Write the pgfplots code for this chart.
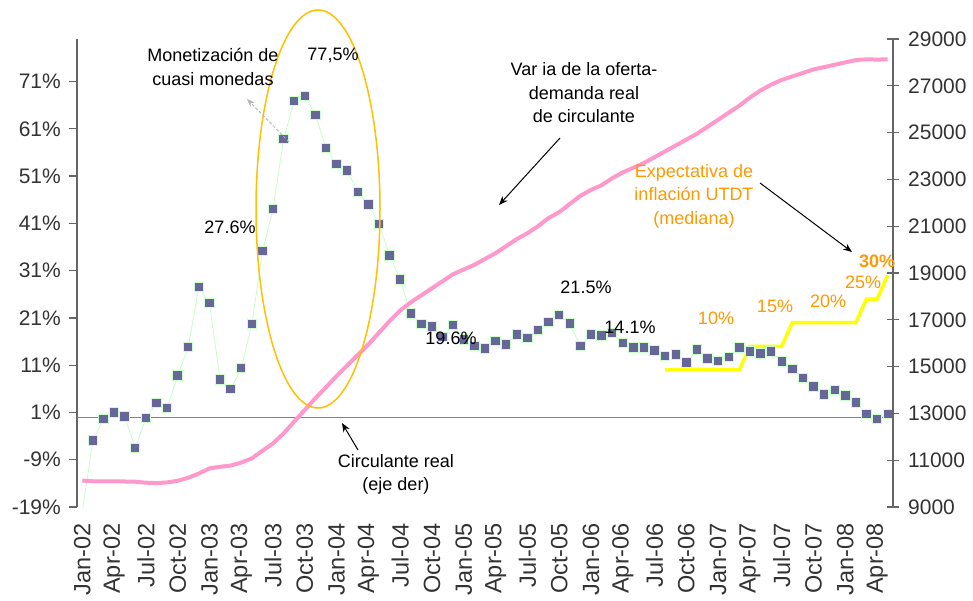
\documentclass[border=0pt]{standalone}
\usepackage{fontspec}
\setmainfont{Liberation Sans}
\usepackage{pgfplots}
\pgfplotsset{compat=1.18}
\usetikzlibrary{arrows.meta}

\definecolor{mk}{HTML}{666699}
\definecolor{lg}{HTML}{CCFFCC}
\definecolor{pk}{HTML}{FF99CC}
\definecolor{ye}{HTML}{FFFF00}
\definecolor{og}{HTML}{FF9900}
\definecolor{el}{HTML}{FFC000}

\newcommand{\tickfont}{\fontsize{21}{25}\selectfont}
\newcommand{\xtickfont}{\fontsize{23.5}{25}\selectfont}
\newcommand{\notefont}{\fontsize{18}{23.5}\selectfont}

\begin{document}
\begin{tikzpicture}[x=1pt,y=1pt]
\useasboundingbox (0,0) rectangle (973,600);

% left axis: variacion interanual (%)
\begin{axis}[
  at={(77pt,93pt)}, anchor=south west,
  width=816pt, height=468pt, scale only axis,
  xmin=-0.5, xmax=76.5, ymin=-19, ymax=80,
  axis y line*=left, axis x line*=bottom,
  x axis line style={draw=none},
  y axis line style={black!60, line width=1.2pt},
  tick align=outside, major tick length=8pt,
  xtick={0,3,...,75},
  xticklabels={Jan-02,Apr-02,Jul-02,Oct-02,Jan-03,Apr-03,Jul-03,Oct-03,Jan-04,Apr-04,Jul-04,Oct-04,Jan-05,Apr-05,Jul-05,Oct-05,Jan-06,Apr-06,Jul-06,Oct-06,Jan-07,Apr-07,Jul-07,Oct-07,Jan-08,Apr-08},
  xtick style={draw=none},
  xticklabel style={yshift=-8pt, rotate=90, anchor=east, inner sep=0pt, font=\xtickfont, text=black!80},
  ytick={-19,-9,...,71},
  yticklabels={-19\%,-9\%,1\%,11\%,21\%,31\%,41\%,51\%,61\%,71\%},
  ytick style={black!60, line width=1.2pt},
  yticklabel style={font=\tickfont, text=black!80, inner sep=0pt, xshift=-8pt},
  extra y ticks={0}, extra y tick labels={},
  extra y tick style={grid=major, major grid style={black!50, line width=1.2pt}, tick style={draw=none}},
]
\addplot[ye, line width=3.5pt] coordinates {
 (55,10) (56,10) (57,10) (58,10) (59,10) (60,10) (61,10) (62,10)
 (63,15) (64,15) (65,15) (66,15)
 (67,20) (68,20) (69,20) (70,20) (71,20) (72,20) (73,20)
 (74,25) (75,25) (76,30)};
\addplot[lg!80!green!60, line width=0.8pt, mark=square*,
  mark size=4.7pt, mark options={fill=mk, draw=lg, line width=1pt}] coordinates {
 (0,-20) (1,-4.9) (2,-0.4) (3,1.0) (4,0.15) (5,-6.5) (6,-0.2) (7,3.05)
 (8,1.9) (9,8.8) (10,14.9) (11,27.5) (12,24.1) (13,8.0) (14,5.9) (15,10.4)
 (16,19.7) (17,35.1) (18,44.1) (19,58.8) (20,66.9) (21,68.0) (22,63.9) (23,56.9)
 (24,53.5) (25,52.2) (26,47.6) (27,45.0) (28,40.9) (29,34.2) (30,29.1) (31,21.9)
 (32,19.7) (33,19.2) (34,17.0) (35,19.5) (36,16.4) (37,15.0) (38,14.5) (39,16.1)
 (40,15.4) (41,17.5) (42,16.8) (43,18.5) (44,20.1) (45,21.6) (46,19.8) (47,15.0)
 (48,17.5) (49,17.3) (50,17.8) (51,15.7) (52,14.7) (53,14.7) (54,14.1) (55,13.0)
 (56,13.3) (57,11.6) (58,14.3) (59,12.4) (60,11.9) (61,12.7) (62,14.7) (63,13.9)
 (64,13.5) (65,13.9) (66,11.8) (67,10.2) (68,8.3) (69,6.5) (70,4.8) (71,5.8)
 (72,4.6) (73,3.1) (74,0.7) (75,-0.4) (76,0.7)};
\end{axis}

% right axis: circulante real
\begin{axis}[
  at={(77pt,93pt)}, anchor=south west,
  width=816pt, height=468pt, scale only axis,
  xmin=-0.5, xmax=76.5, ymin=9000, ymax=29000,
  axis y line*=right, axis x line=none,
  xtick=\empty, scaled y ticks=false,
  y axis line style={black!60, line width=1.2pt},
  tick align=center, major tick length=12pt,
  ytick={9000,11000,...,29000},
  yticklabels={9000,11000,13000,15000,17000,19000,21000,23000,25000,27000,29000},
  ytick style={black!60, line width=1.2pt},
  yticklabel style={font=\tickfont, text=black!80, inner sep=0pt, xshift=9pt},
]
\addplot[pk, line width=4pt, line join=round] coordinates {
 (0,10130) (1,10100) (2,10090) (3,10090) (4,10090) (5,10080) (6,10040) (7,10020)
 (8,10050) (9,10120) (10,10250) (11,10430) (12,10650) (13,10720) (14,10770) (15,10900)
 (16,11080) (17,11400) (18,11720) (19,12150) (20,12650) (21,13150) (22,13650) (23,14120)
 (24,14600) (25,15050) (26,15500) (27,15950) (28,16450) (29,16950) (30,17400) (31,17750)
 (32,18050) (33,18350) (34,18650) (35,18950) (36,19150) (37,19350) (38,19600) (39,19850)
 (40,20150) (41,20450) (42,20700) (43,21000) (44,21350) (45,21600) (46,21950) (47,22300)
 (48,22550) (49,22750) (50,23050) (51,23300) (52,23500) (53,23700) (54,23950) (55,24200)
 (56,24450) (57,24700) (58,24950) (59,25250) (60,25550) (61,25850) (62,26150) (63,26500)
 (64,26800) (65,27050) (66,27250) (67,27400) (68,27550) (69,27700) (70,27800) (71,27900)
 (72,28000) (73,28100) (74,28130) (75,28120) (76,28130)};
\end{axis}

% annotations
\draw[el, line width=1.5pt] (318,391) ellipse [x radius=62, y radius=199];
\node[align=center, font=\notefont] at (213,533) {Monetización de\\cuasi monedas};
\draw[gray!60, line width=0.8pt, densely dashed, -{Stealth[length=8pt,width=6pt]}] (289,458) -- (247,501);
\node[font=\notefont] at (333,545) {77,5\%};
\node[font=\notefont] at (230,373) {27.6\%};
\node[align=center, font=\notefont] at (584,507) {Var ia de la oferta-\\demanda real\\de circulante};
\draw[black, line width=1pt, -{Stealth[length=9pt,width=7pt]}] (560,462) -- (499,395);
\node[font=\notefont] at (451,262) {19.6\%};
\node[font=\notefont] at (586,313) {21.5\%};
\node[font=\notefont] at (630,273) {14.1\%};
\node[align=center, font=\notefont] at (396,125.5) {Circulante real\\(eje der)};
\draw[black, line width=1pt, -{Stealth[length=9pt,width=7pt]}] (358,150) -- (342,177);
\node[align=center, font=\notefont, text=og] at (694,404) {Expectativa de\\inflación UTDT\\(mediana)};
\draw[black, line width=1pt, -{Stealth[length=9pt,width=7pt]}] (760,417) -- (852,348);
\node[font=\notefont, text=og] at (716,282) {10\%};
\node[font=\notefont, text=og] at (775,294) {15\%};
\node[font=\notefont, text=og] at (828,299) {20\%};
\node[font=\notefont, text=og] at (863,318) {25\%};
\node[font=\notefont\bfseries, text=og] at (877,339) {30\%};
\end{tikzpicture}
\end{document}
